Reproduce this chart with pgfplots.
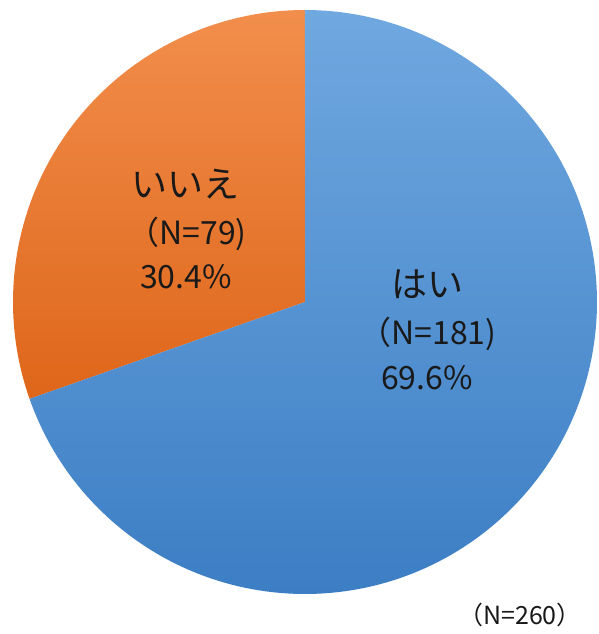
\documentclass[border=0pt]{standalone}
\usepackage{fontspec}
\setmainfont{Noto Sans CJK JP}
\usepackage{pgfplots}
\usepackage{pgfplotstable}
\pgfplotsset{compat=1.18}

\definecolor{yesTop}{HTML}{70A8E0}
\definecolor{yesBot}{HTML}{3C7EC4}
\definecolor{noTop}{HTML}{F28E4C}
\definecolor{noBot}{HTML}{DE661A}

% answers to the question: count per answer
\pgfplotstableread{
answer n
yes 181
no  79
}\answers

\pgfplotstablegetelem{0}{n}\of\answers \let\nYes\pgfplotsretval
\pgfplotstablegetelem{1}{n}\of\answers \let\nNo\pgfplotsretval
\pgfmathsetmacro{\nTotal}{\nYes+\nNo}
\pgfmathsetmacro{\noShare}{\nNo/\nTotal}
\pgfmathsetmacro{\noEnd}{90+360*\noShare}

\tikzset{
  kana/.style={font=\fontsize{36}{40}\selectfont, text=black!90},
  num/.style={font=\fontsize{32}{36}\selectfont, text=black!90},
}

\begin{document}
\begin{tikzpicture}
\useasboundingbox (0,0) rectangle (598pt,634pt);
\begin{axis}[
  at={(305pt,332pt)}, anchor=center,
  scale only axis, width=584pt, height=584pt,
  xmin=-1, xmax=1, ymin=-1, ymax=1,
  hide axis, clip=false,
  samples=180, variable=\t,
]
% "no" slice, counter-clockwise from 12 o'clock
\addplot[draw=none, top color=noTop, bottom color=noBot, domain=90:\noEnd]
  ({cos(\t)},{sin(\t)}) -- (axis cs:0,0) -- cycle;
% "yes" slice, the rest of the circle
\addplot[draw=none, top color=yesTop, bottom color=yesBot, domain=\noEnd:450]
  ({cos(\t)},{sin(\t)}) -- (axis cs:0,0) -- cycle;

\node[kana] at (axis cs:-0.408,0.405) {いいえ};
\node[num]  at (axis cs:-0.404,0.232) {（N=79)};
\node[num]  at (axis cs:-0.408,0.086) {30.4\%};

\node[kana] at (axis cs:0.418,0.062) {はい};
\node[num]  at (axis cs:0.421,-0.110) {（N=181)};
\node[num]  at (axis cs:0.418,-0.260) {69.6\%};
\end{axis}
\node[font=\fontsize{25}{28}\selectfont, text=black!90] at (520pt,19pt) {（N=260）};
\end{tikzpicture}
\end{document}
